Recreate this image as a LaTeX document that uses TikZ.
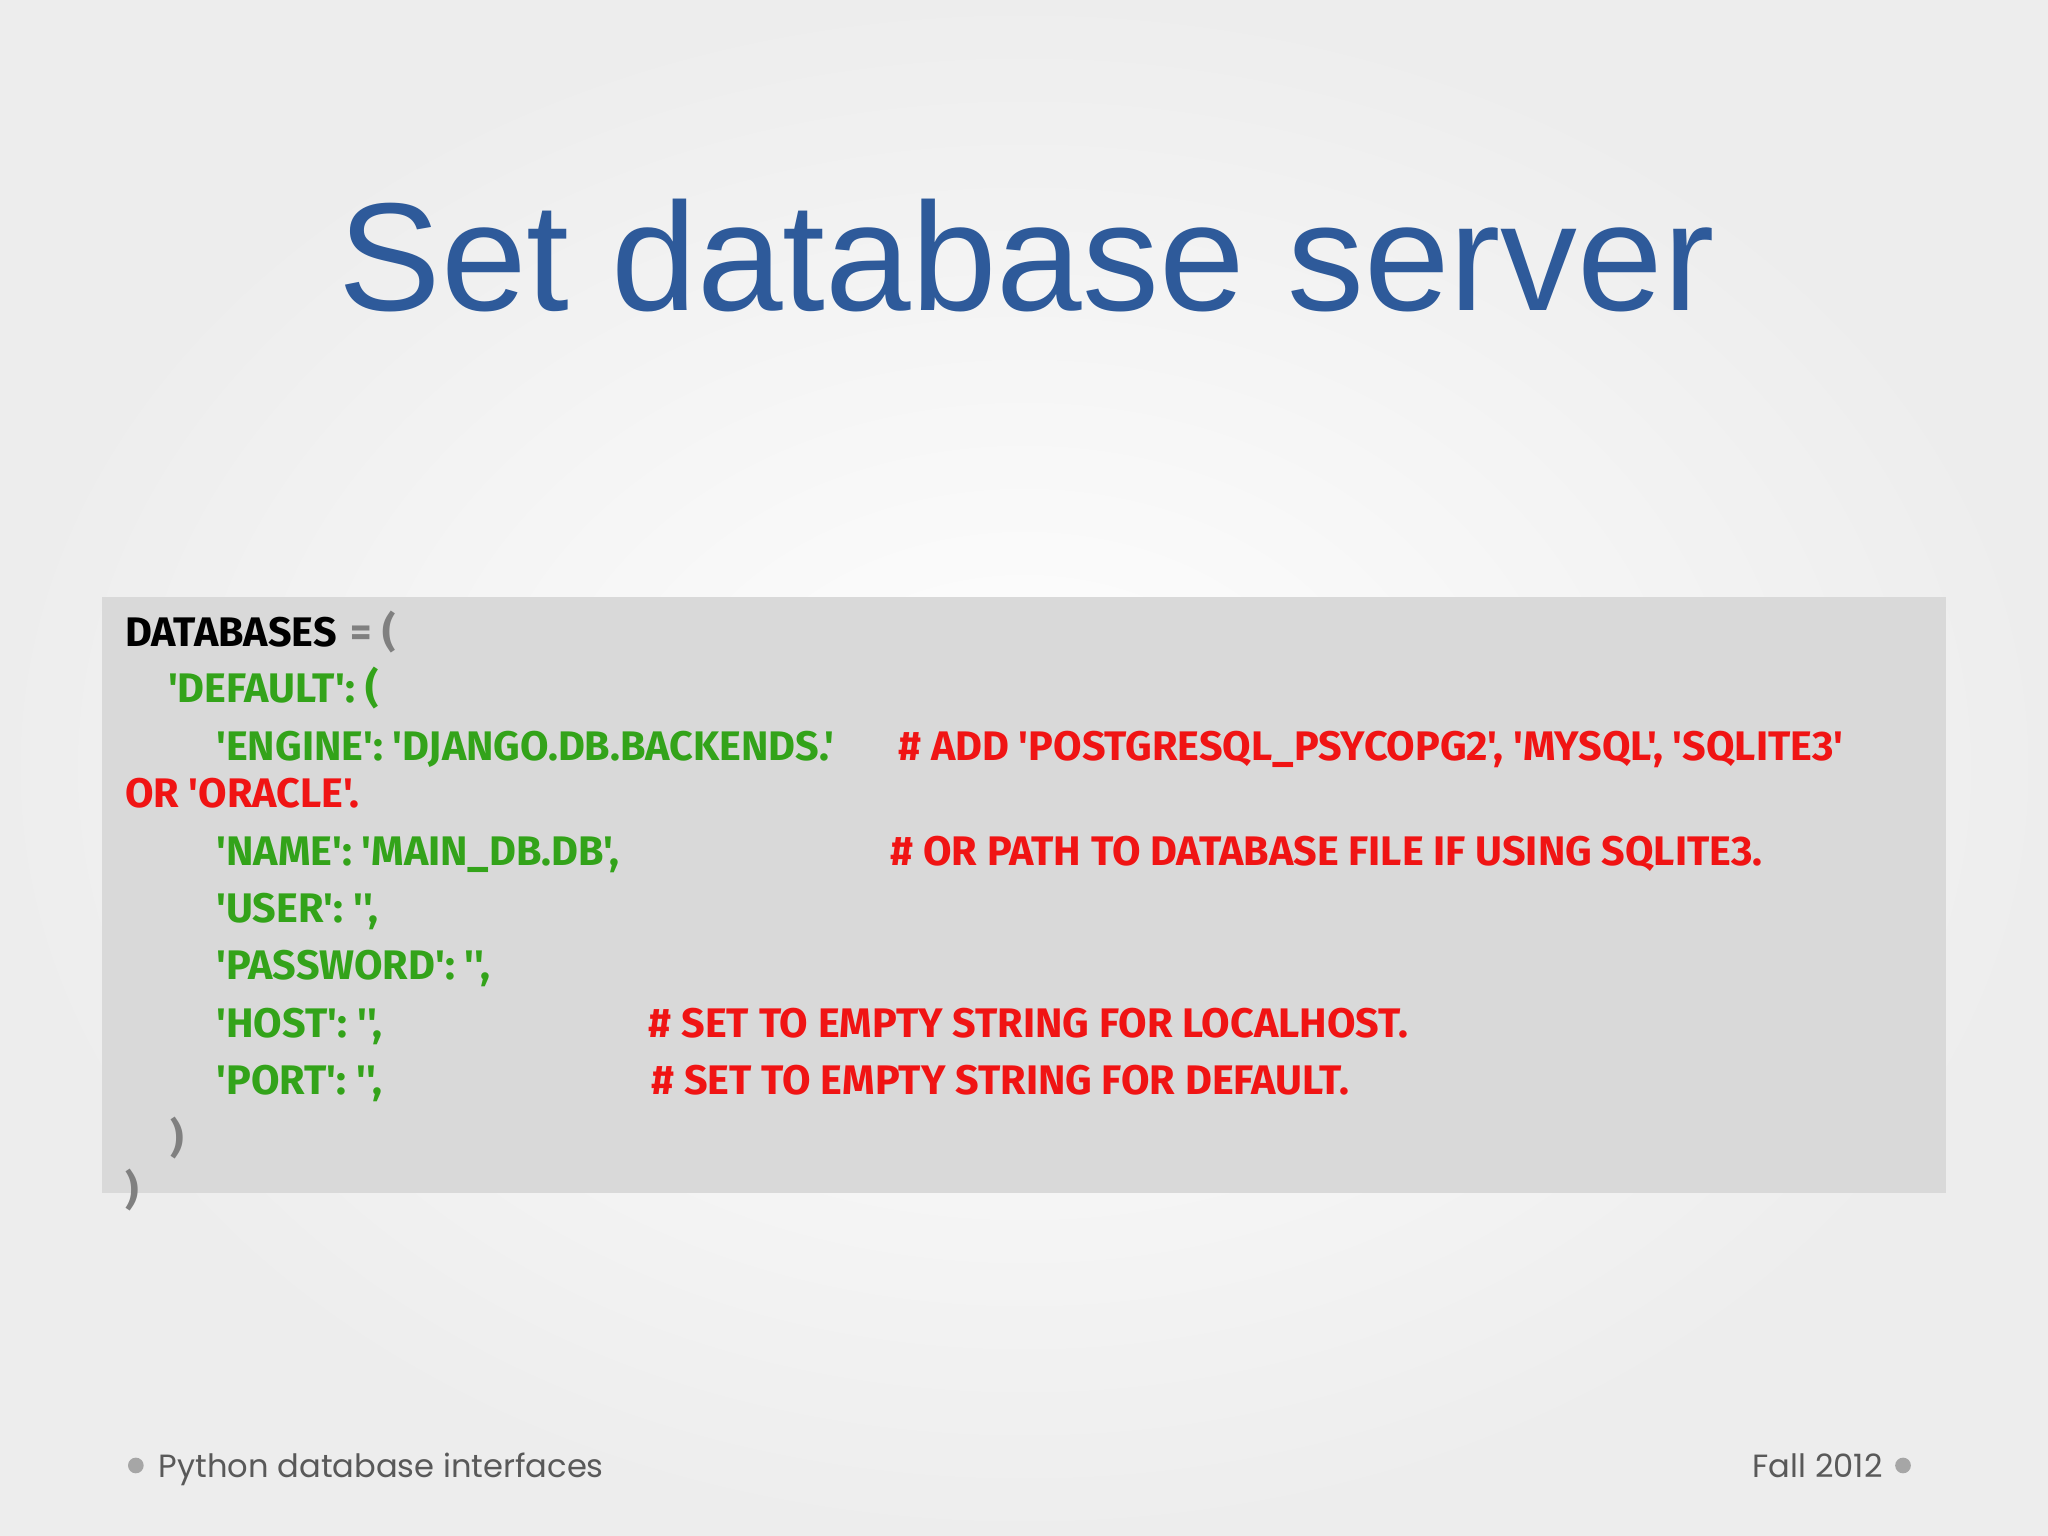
\documentclass[tikz,border=0pt]{standalone}
\usepackage{fontspec}
\setmainfont{Liberation Sans}
\newfontfamily\codefont{Fira Sans}
\newfontfamily\footfont{Poppins}
\definecolor{titleblue}{HTML}{2E5A9A}
\definecolor{codegreen}{HTML}{33A31A}
\definecolor{codered}{HTML}{F01414}
\definecolor{boxgray}{HTML}{D9D9D9}
\definecolor{footgray}{HTML}{595959}
\tikzset{
  code/.style={anchor=base west,inner sep=0pt,font=\codefont\bfseries\fontsize{9.0}{10}\selectfont},
  cg/.style={code,text=codegreen},
  cr/.style={code,text=codered},
  ck/.style={code,text=black},
  cgy/.style={code,text=gray}
}
\begin{document}
\begin{tikzpicture}[x=0.1mm,y=-0.1mm]
\useasboundingbox (0,0) rectangle (1568,1176);
\shade[inner color=white,outer color=black!7] (0,0) rectangle (1568,1176);
\node[anchor=base,inner sep=0pt,text=titleblue,font=\fontsize{33.5}{38}\selectfont] (title) at (786,238) {Set database server};
\fill[boxgray] (78,457) rectangle (1490,913);
\node[ck] (l1) at (95,495) {DATABASES};
\node[cgy] (l1b) at (268,495) {= (};
\node[cg] (l2) at (128,538) {'DEFAULT': (};
\node[cg] (l3) at (165,582) {'ENGINE': 'DJANGO.DB.BACKENDS.'};
\node[cr] (c3) at (687,582) {\# ADD 'POSTGRESQL\_PSYCOPG2', 'MYSQL', 'SQLITE3'};
\node[cr] (c3b) at (95,618) {OR 'ORACLE'.};
\node[cg] (l4) at (165,663) {'NAME': 'MAIN\_DB.DB',};
\node[cr] (c4) at (681,663) {\# OR PATH TO DATABASE FILE IF USING SQLITE3.};
\node[cg] (l5) at (165,706) {'USER': '',};
\node[cg] (l6) at (165,750) {'PASSWORD': '',};
\node[cg] (l7) at (165,794) {'HOST': '',};
\node[cr] (c7) at (496,794) {\# SET TO EMPTY STRING FOR LOCALHOST.};
\node[cg] (l8) at (165,838) {'PORT': '',};
\node[cr] (c8) at (498,838) {\# SET TO EMPTY STRING FOR DEFAULT.};
\node[cgy] (l9) at (130,882) {)};
\node[cgy] (l10) at (95,922) {)};
\fill[gray!70] (104,1122) circle (6);
\node[anchor=base west,inner sep=0pt,text=footgray,font=\footfont\fontsize{7.0}{9}\selectfont] (foot1) at (121,1131) {Python database interfaces};
\node[anchor=base east,inner sep=0pt,text=footgray,font=\footfont\fontsize{7.0}{9}\selectfont] (foot2) at (1442,1131) {Fall 2012};
\fill[gray!70] (1457,1122) circle (6);
\end{tikzpicture}
\end{document}
